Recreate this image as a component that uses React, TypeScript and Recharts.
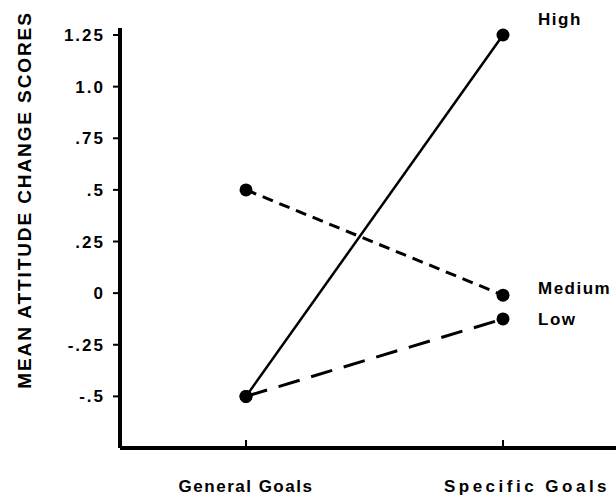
import React from 'react';
import { LineChart, Line, XAxis, YAxis } from 'recharts';

const categories = ['General Goals', 'Specific Goals'];
const highValues = [-0.5, 1.25];
const mediumValues = [0.5, -0.01];
const lowValues = [-0.5, -0.125];
const yTicks = [-0.5, -0.25, 0, 0.25, 0.5, 0.75, 1.0, 1.25];
const yTickLabels: Record<string, string> = {
  '-0.5': '-.5',
  '-0.25': '-.25',
  '0': '0',
  '0.25': '.25',
  '0.5': '.5',
  '0.75': '.75',
  '1': '1.0',
  '1.25': '1.25',
};
const seriesNames = ['High', 'Medium', 'Low'];
const yTitle = 'MEAN ATTITUDE CHANGE SCORES';

const data = categories.map((c, i) => ({
  category: c,
  high: highValues[i],
  medium: mediumValues[i],
  low: lowValues[i],
}));

const FONT = '"Liberation Sans", Arial, sans-serif';

const makeEndLabel = (name: string, dy: number) => (props: any) => {
  const { x, y, index } = props;
  if (index !== categories.length - 1) return null;
  return (
    <text x={x + 35} y={y + dy} fontFamily={FONT} fontWeight="bold" fontSize={17} letterSpacing={1.5} fill="#000">
      {name}
    </text>
  );
};

const Dot = (props: any) => {
  const { cx, cy } = props;
  return <circle cx={cx} cy={cy} r={6.5} fill="#000" stroke="none" />;
};

const xTickShift = [0, 24];
const xTickSpacing = [1.5, 3.5];

const XTick = (props: any) => {
  const { x, y, payload, index } = props;
  return (
    <text
      x={x + xTickShift[index]}
      y={y + 50}
      textAnchor="middle"
      fontFamily={FONT}
      fontWeight="bold"
      fontSize={17}
      letterSpacing={xTickSpacing[index]}
      fill="#000"
    >
      {payload.value}
    </text>
  );
};

const YTick = (props: any) => {
  const { x, y, payload } = props;
  return (
    <text x={x - 6} y={y + 6} textAnchor="end" fontFamily={FONT} fontWeight="bold" fontSize={17} letterSpacing={2} fill="#000">
      {yTickLabels[String(payload.value)]}
    </text>
  );
};

const YTitle = (props: any) => {
  const vb = props.viewBox || {};
  const cx = 31;
  const cy = vb.y + vb.height / 2 - 38;
  return (
    <text
      x={cx}
      y={cy}
      transform={`rotate(-90, ${cx}, ${cy})`}
      textAnchor="middle"
      fontFamily={FONT}
      fontWeight="bold"
      fontSize={19}
      letterSpacing={1.9}
      fill="#000"
    >
      {yTitle}
    </text>
  );
};

export default function App() {
  return (
    <div style={{ position: 'absolute', left: 0, top: 0, width: 616, height: 500, background: '#fff' }}>
      <LineChart width={616} height={500} data={data} margin={{ top: 28, right: 0, bottom: 22, left: 40 }}>
        <XAxis
          dataKey="category"
          padding={{ left: 126, right: 113 }}
          axisLine={{ stroke: '#000', strokeWidth: 4 }}
          tickLine={{ stroke: '#000', strokeWidth: 2 }}
          tickSize={-8}
          tick={<XTick />}
          interval={0}
        />
        <YAxis
          type="number"
          domain={[-0.75, 1.284]}
          ticks={yTicks}
          allowDataOverflow
          width={80}
          axisLine={{ stroke: '#000', strokeWidth: 4 }}
          tickLine={{ stroke: '#000', strokeWidth: 2 }}
          tickSize={7}
          tick={<YTick />}
          label={{ content: <YTitle /> }}
        />
        <Line
          dataKey="high"
          name={seriesNames[0]}
          stroke="#000"
          strokeWidth={2.5}
          dot={<Dot />}
          isAnimationActive={false}
          label={makeEndLabel(seriesNames[0], -10)}
        />
        <Line
          dataKey="medium"
          name={seriesNames[1]}
          stroke="#000"
          strokeWidth={3}
          strokeDasharray="11 7"
          dot={<Dot />}
          isAnimationActive={false}
          label={makeEndLabel(seriesNames[1], -1)}
        />
        <Line
          dataKey="low"
          name={seriesNames[2]}
          stroke="#000"
          strokeWidth={3}
          strokeDasharray="22 12"
          dot={<Dot />}
          isAnimationActive={false}
          label={makeEndLabel(seriesNames[2], 6)}
        />
      </LineChart>
    </div>
  );
}
